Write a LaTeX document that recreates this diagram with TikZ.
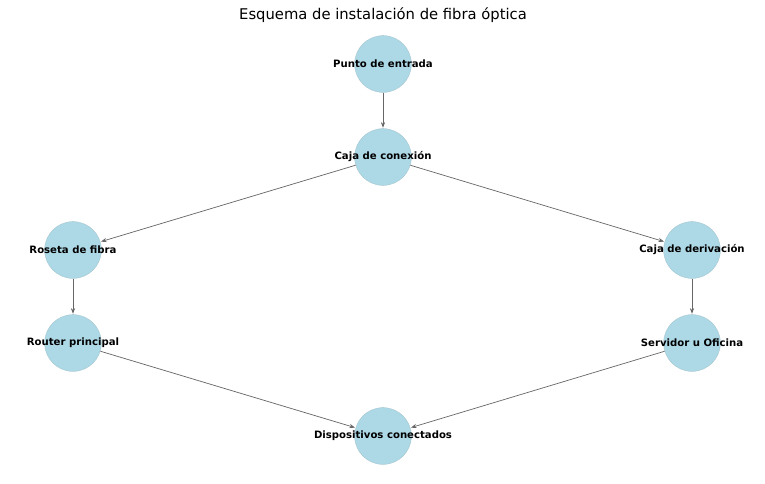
\documentclass[tikz,border=0pt]{standalone}
\usepackage{fontspec}
\setmainfont{DejaVu Sans}
\usetikzlibrary{arrows.meta}
\definecolor{nodeblue}{HTML}{ADD8E6}
\definecolor{edgegray}{HTML}{666666}
\begin{document}
\begin{tikzpicture}[
    x=0.025cm, y=-0.025cm,
    station/.style={circle, fill=nodeblue, draw=nodeblue!85!black!90, line width=0.2pt, minimum size=1.42cm, inner sep=0pt},
    stationtext/.style={font=\fontsize{7.2}{8}\selectfont\bfseries},
    link/.style={-{Stealth[length=4pt, width=3pt]}, edgegray, line width=0.5pt, shorten >=0.5pt}
]
\useasboundingbox (0,0) rectangle (765,483);

\node[font=\fontsize{10.5}{12}\selectfont] (title) at (383,15) {Esquema de instalación de fibra óptica};

% Nodes
\node[station, label={[stationtext]center:Punto de entrada}] (entrada) at (383,64) {};
\node[station, label={[stationtext]center:Caja de conexión}] (caja) at (383,157) {};
\node[station, label={[stationtext]center:Roseta de fibra}] (roseta) at (73,250) {};
\node[station, label={[stationtext]center:Caja de derivación}] (derivacion) at (692,250) {};
\node[station, label={[stationtext]center:Router principal}] (router) at (73,343) {};
\node[station, label={[stationtext]center:Servidor u Oficina}] (servidor) at (692,343) {};
\node[station, label={[stationtext]center:Dispositivos conectados}] (dispositivos) at (383,436) {};

% Links
\draw[link] (entrada) -- (caja);
\draw[link] (caja) -- (roseta);
\draw[link] (caja) -- (derivacion);
\draw[link] (roseta) -- (router);
\draw[link] (derivacion) -- (servidor);
\draw[link] (router) -- (dispositivos);
\draw[link] (servidor) -- (dispositivos);

\end{tikzpicture}
\end{document}
